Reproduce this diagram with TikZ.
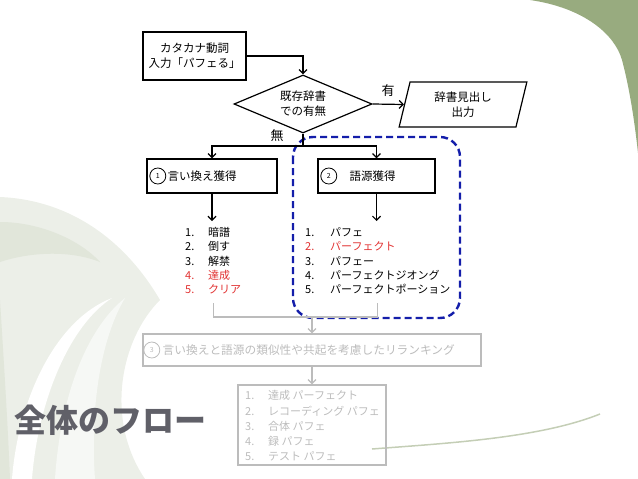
\documentclass[tikz,border=0pt]{standalone}
\usepackage{fontspec}
\setmainfont{Noto Sans CJK JP}
\usetikzlibrary{positioning,shapes.geometric,arrows.meta}
\definecolor{slidegreen}{RGB}{152,171,127}
\definecolor{palegreen}{RGB}{236,239,232}
\definecolor{bandgreen}{RGB}{225,230,218}
\definecolor{listred}{RGB}{225,50,50}
\definecolor{dashblue}{RGB}{20,30,170}
\definecolor{faint}{RGB}{188,188,188}
\definecolor{titlegrey}{RGB}{96,96,104}
\newcommand{\redtext}[1]{\leavevmode\color{listred}#1}
\begin{document}
\begin{tikzpicture}[x=1pt, y=-1pt,
    every node/.style={font=\fontsize{11.5}{15}\selectfont},
    box/.style={draw, line width=1.2pt, inner sep=0pt},
    arr/.style={line width=1.2pt, -{Straight Barb[length=4pt,width=8pt]}},
    num/.style={draw, circle, line width=0.8pt, minimum size=16pt, inner sep=0pt, font=\fontsize{7}{7}\selectfont},
    items/.style={inner xsep=0pt, inner ysep=5pt, anchor=north west, align=left, font=\fontsize{11}{14.4}\selectfont},
    faded/.style={draw=faint, text=faint},
    fadedarr/.style={draw=faint, line width=1.2pt, -{Straight Barb[length=4pt,width=8pt]}}]
  % background
  \useasboundingbox (0,0) rectangle (638,479);
  \fill[slidegreen] (530,0) .. controls (585,8) and (615,35) .. (622,60) .. controls (630,90) and (635,125) .. (638,153) -- (638,0) -- cycle;
  \fill[palegreen] (0,197) .. controls (70,200) and (125,240) .. (160,300) .. controls (120,340) and (105,420) .. (145,479) -- (0,479) -- cycle;
  \fill[bandgreen] (0,222) .. controls (40,222) and (80,240) .. (100,262) .. controls (70,250) and (30,252) .. (0,262) -- cycle;
  \fill[bandgreen] (0,300) .. controls (5,380) and (8,430) .. (10,479) -- (0,479) -- cycle;
  \fill[white] (12,479) .. controls (18,400) and (55,320) .. (112,298) .. controls (70,325) and (38,400) .. (32,479) -- cycle;
  \fill[white!55!palegreen] (55,479) .. controls (60,400) and (85,330) .. (125,298) .. controls (100,340) and (90,410) .. (95,479) -- cycle;
  \draw[bandgreen!60!slidegreen, line width=1.5pt] (372,449) .. controls (450,443) and (540,438) .. (600,414);
  % nodes
  \node[box, minimum width=103pt, minimum height=48pt, align=center] (input) at (194.5,56) {カタカナ動詞\\入力「パフェる」};
  \node[box, diamond, aspect=2.4, minimum width=138pt, minimum height=58pt, align=center] (check) at (303,104) {既存辞書\\での有無};
  \node[box, trapezium, trapezium left angle=77, trapezium right angle=103, trapezium stretches=true,
        minimum width=128pt, minimum height=45pt, align=center] (output) at (463,104.5) {辞書見出し\\出力};
  \node[font=\fontsize{13}{13}\selectfont] (yes) at (388,91) {有};
  \node[font=\fontsize{13}{13}\selectfont] (no) at (277,136) {無};
  \coordinate (split) at (303,146);
  \node[box, minimum width=130pt, minimum height=34pt] (para) at (212,176) {};
  \node[num, right=3pt of para.west] (n1) {1};
  \node[right=-2pt of n1] (paratext) {言い換え獲得};
  \node[box, minimum width=117pt, minimum height=34pt] (ety) at (376.5,176) {};
  \node[num, right=3pt of ety.west] (n2) {2};
  \node[right=9pt of n2] (etytext) {語源獲得};
  \node[items] (paralist) at (185,221) {\begin{tabular}{@{}p{23pt}@{}l@{}}
    1. & 暗譜\\ 2. & 倒す\\ 3. & 解禁\\ \redtext{4.} & \redtext{達成}\\ \redtext{5.} & \redtext{クリア}
  \end{tabular}};
  \node[items] (etylist) at (305,221) {\begin{tabular}{@{}p{25pt}@{}l@{}}
    1. & パフェ\\ \redtext{2.} & \redtext{パーフェクト}\\ 3. & パフェー\\ 4. & パーフェクトジオング\\ 5. & パーフェクトポーション
  \end{tabular}};
  \draw[dashblue, line width=2.4pt, dash pattern=on 7pt off 4pt, rounded corners=20pt] (293,137) rectangle (460,318);
  % lines
  \draw[arr] (input.east) -| (check.north);
  \draw[arr] (check.east) -- (output.west);
  \draw[line width=1.2pt] (check.south) -- (split);
  \draw[arr] (split) -| (para.north);
  \draw[arr] (split) -| (ety.north);
  \draw[arr] (para.south) -- (para.south |- paralist.north);
  \draw[arr] (ety.south) -- (ety.south |- etylist.north);
  % faded part
  \coordinate (merge) at (312,317);
  \node[box, faded, minimum width=338pt, minimum height=32pt] (rerank) at (312,350) {};
  \node[num, faded, right=1pt of rerank.west] (n3) {3};
  \node[right=-1pt of n3, text=faint, font=\fontsize{11.7}{14}\selectfont] (reranktext) {言い換えと語源の類似性や共起を考慮したリランキング};
  \node[box, faded, minimum width=148pt, minimum height=80pt] (result) at (312,425) {};
  \node[items, text=faint, font=\fontsize{11}{15.2}\selectfont] (resultlist) at (245,384) {\begin{tabular}{@{}p{23pt}@{}l@{}}
    1. & 達成 パーフェクト\\ 2. & レコーディング パフェ\\ 3. & 合体 パフェ\\ 4. & 録 パフェ\\ 5. & テスト パフェ
  \end{tabular}};
  \draw[faint, line width=1.2pt] (paralist.south) |- (etylist.south |- merge) -- (etylist.south);
  \draw[fadedarr] (merge) -- (rerank.north);
  \draw[fadedarr] (rerank.south) -- (result.north);
  % title
  \node[font=\fontsize{32}{32}\selectfont\bfseries, text=titlegrey] (title) at (111,420) {全体のフロー};
\end{tikzpicture}
\end{document}
